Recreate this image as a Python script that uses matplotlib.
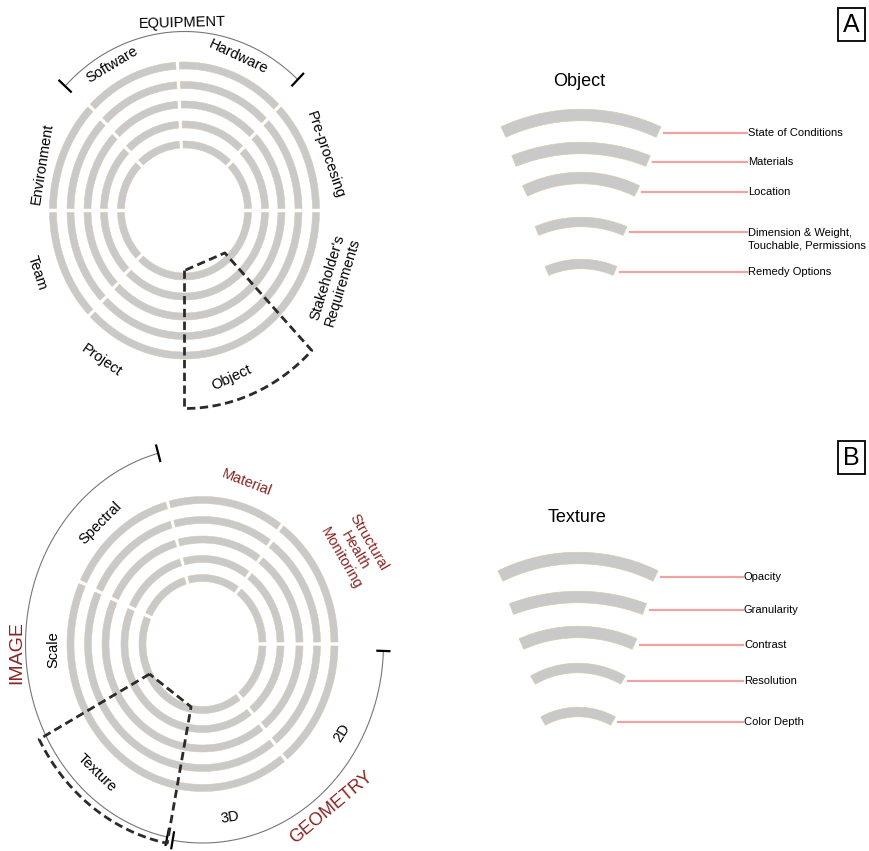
import matplotlib.pyplot as plt
import numpy as np
from matplotlib.patches import Rectangle

plt.rcParams['font.family'] = ['Liberation Sans', 'DejaVu Sans']

# ---- data -------------------------------------------------------------
# top wheel (A)
top_labels = ["Software", "Hardware", "Pre-procesing", "Stakeholder's\nRequirements",
              "Object", "Project", "Team", "Environment"]
top_group = "EQUIPMENT"
top_gaps = [0, 45, 93, 135, 180, 225]          # ring breaks, degrees

# bottom wheel (B)
bot_labels = ["Material", "Structural\nHealth\nMonitoring", "2D", "3D",
              "Texture", "Scale", "Spectral"]
bot_red = [True, True, False, False, False, False, False]
bot_groups = ["IMAGE", "GEOMETRY"]
bot_gaps = [0, 54, 105, 155, 308]

# detail legends
obj_title = "Object"
obj_items = ["State of Conditions", "Materials", "Location",
             "Dimension & Weight,\nTouchable, Permissions", "Remedy Options"]
tex_title = "Texture"
tex_items = ["Opacity", "Granularity", "Contrast", "Resolution", "Color Depth"]

panel_letters = ["A", "B"]

# ---- layout (pixels, y down) -----------------------------------------
ring_rx = [63.5, 80.5, 97, 114, 131.5]
ring_ry = [66, 86, 106, 125.5, 145]
ring_rx_b = [60, 78, 97, 114.5, 132]
ring_ry_b = [66, 85, 104.5, 124, 144]

GRAY = '#c9c9c9'
EDGE = '#d9c9a9'
RED = '#8B2323'
PINK = '#f0a3a3'
DASH = '#2b2b2b'

fig = plt.figure(figsize=(8.69, 8.51), dpi=100)
ax = fig.add_axes([0, 0, 1, 1])
ax.set_xlim(0, 869)
ax.set_ylim(851, 0)
ax.axis('off')


def ell(cx, cy, rx, ry, a0, a1, n=120):
    t = np.radians(np.linspace(a0, a1, n))
    return cx + rx * np.cos(t), cy - ry * np.sin(t)


def band(cx, cy, rx, ry, a0, a1, w=7):
    xo, yo = ell(cx, cy, rx + w / 2, ry + w / 2, a0, a1)
    xi, yi = ell(cx, cy, rx - w / 2, ry - w / 2, a1, a0)
    ax.fill(np.r_[xo, xi], np.r_[yo, yi], fc=GRAY, ec=EDGE, lw=0.4)


def wheel(cx, cy, rxs, rys, gaps):
    g = sorted(gaps) + [sorted(gaps)[0] + 360]
    for rx, ry in zip(rxs, rys):
        half = np.degrees(1.9 / ((rx + ry) / 2))
        for a0, a1 in zip(g[:-1], g[1:]):
            band(cx, cy, rx, ry, a0 + half, a1 - half)


def tick(cx, cy, rx, ry, a, ln=8):
    t = np.radians(a)
    x0, y0 = cx + (rx - ln) * np.cos(t), cy - (ry - ln) * np.sin(t)
    x1, y1 = cx + (rx + ln) * np.cos(t), cy - (ry + ln) * np.sin(t)
    ax.plot([x0, x1], [y0, y1], color='black', lw=1.6)


def thin_arc(cx, cy, rx, ry, a0, a1):
    x, y = ell(cx, cy, rx, ry, a0, a1, 200)
    ax.plot(x, y, color='#777777', lw=0.8)


def wedge(cx, cy, rin, rout, a0, a1):
    xi0, yi0 = ell(cx, cy, rin[0], rin[1], a0, a0, 1)
    xi1, yi1 = ell(cx, cy, rin[0], rin[1], a1, a1, 1)
    xo, yo = ell(cx, cy, rout[0], rout[1], a0, a1, 80)
    x = np.r_[xi0, xo, xi1, xi0]
    y = np.r_[yi0, yo, yi1, yi0]
    ax.plot(x, y, color=DASH, lw=2.0, linestyle=(0, (3, 1.6)))


def label(s, x, y, rot, size=10.5, color='black'):
    ax.text(x, y, s, rotation=rot, rotation_mode='anchor', ha='center',
            va='center', multialignment='center', fontsize=size, color=color)


# ---- wheel A ----------------------------------------------------------
cxa, cya = 184.5, 210.5
wheel(cxa, cya, ring_rx, ring_ry, top_gaps)
thin_arc(cxa, cya, 166, 179, 47, 136)
tick(cxa, cya, 166, 179, 47)
tick(cxa, cya, 166, 179, 136)
wedge(cxa, cya, (57, 60), (180, 198), -90, -45)

label(top_group, 182, 23, 1.5)
top_pos = [(112, 65, 31), (238, 57, -25), (325, 155, -71), (335, 280, 73),
           (232, 378, 25), (102, 360, -35), (37, 273, -72), (42, 164, 81)]
for s, (x, y, r) in zip(top_labels, top_pos):
    label(s, x, y, r)

# ---- wheel B ----------------------------------------------------------
cxb, cyb = 202.5, 644
wheel(cxb, cyb, ring_rx_b, ring_ry_b, bot_gaps)
thin_arc(cxb, cyb, 177, 197, 104.5, 258.5)
tick(cxb, cyb, 177, 197, 104.5)
tick(cxb, cyb, 177, 197, 258.5)
thin_arc(cxb, cyb, 181, 199, -99.5, -2)
tick(cxb, cyb, 181, 199, -99.5)
tick(cxb, cyb, 181, 199, -2, ln=6)
wedge(cxb, cyb, (60, 64), (185, 203), -152, -101)

bot_pos = [(247, 483, -21), (355, 550, -60), (342, 733, 58), (230, 817, 10),
           (97, 773, -44), (53, 650, 90), (100, 523, 45)]
for s, red, (x, y, r) in zip(bot_labels, bot_red, bot_pos):
    label(s, x, y, r, color=RED if red else 'black')
label(bot_groups[0], 17, 653, 90, size=14, color=RED)
label(bot_groups[1], 331, 808, 40, size=13, color=RED)


# ---- detail legends ---------------------------------------------------
def legend_block(title, items, xc, tops, halfs, radii, widths, title_xy, x_text):
    ax.text(title_xy[0], title_xy[1], title, fontsize=13, ha='center', va='center')
    for s, top, hc, R, w in zip(items, tops, halfs, radii, widths):
        th = np.arcsin(hc / R)
        phi = np.linspace(-th, th, 60)
        cyc = top + R
        xo, yo = xc + (R + w / 2) * np.sin(phi), cyc - (R + w / 2) * np.cos(phi)
        xi, yi = xc + (R - w / 2) * np.sin(phi[::-1]), cyc - (R - w / 2) * np.cos(phi[::-1])
        ax.fill(np.r_[xo, xi], np.r_[yo, yi], fc=GRAY, ec=EDGE, lw=0.5)
        x_end = xc + R * np.sin(th) + 5
        y_line = cyc - R * np.cos(th) + 1
        ax.plot([x_end, x_text], [y_line, y_line], color=PINK, lw=1.6)
        n_lines = s.count('\n') + 1
        ax.text(x_text + 1, y_line + 7 * (n_lines - 1), s, fontsize=8,
                ha='left', va='center', linespacing=1.25)


legend_block(obj_title, obj_items, 581, [115, 148, 178, 222, 264],
             [77.5, 67, 56, 44, 34], [185, 179, 127, 112, 86],
             [11.5, 11.5, 11.5, 9.5, 9.5], (579, 81), 747)
legend_block(tex_title, tex_items, 578, [558, 597, 632, 668, 712],
             [77.5, 66.5, 56.5, 45, 35], [176, 190, 139, 90, 72],
             [11.5, 11.5, 11.5, 9.5, 9.5], (577, 518), 743)

# panel letters
for letter, y0 in zip(panel_letters, [8, 441]):
    ax.add_patch(Rectangle((838, y0), 27, 33, fill=False, ec='black', lw=1.3))
    ax.text(851.5, y0 + 17, letter, fontsize=18, ha='center', va='center')

fig.savefig('out.png', dpi=100, facecolor='white')
